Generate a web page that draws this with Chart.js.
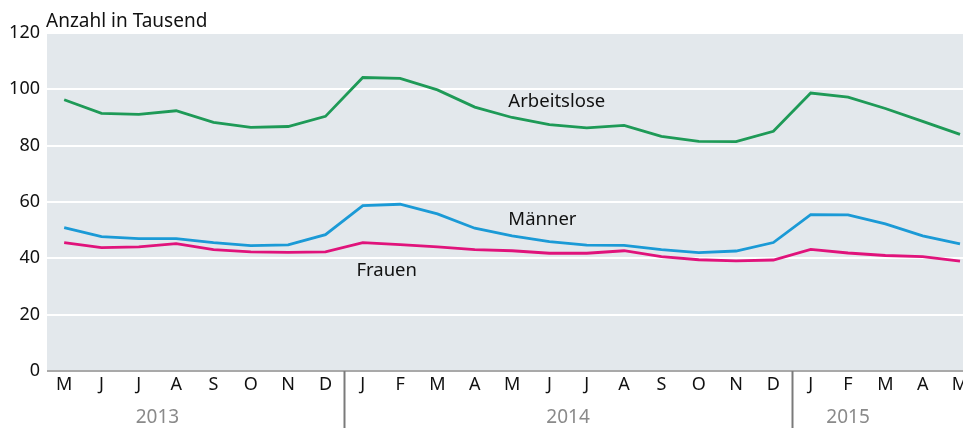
<!DOCTYPE html>
<html>
<head>
<meta charset="utf-8">
<script src="https://cdn.jsdelivr.net/npm/chart.js@4"></script>
<style>
  html, body { margin: 0; padding: 0; background: #fff; }
  #wrap { width: 963px; height: 428px; }
</style>
</head>
<body>
<div id="wrap"><canvas id="arbeitslose_chart"></canvas></div>
<script>
// Monate Mai 2013 bis Mai 2015
var months = ["M", "J", "J", "A", "S", "O", "N", "D",
              "J", "F", "M", "A", "M", "J", "J", "A", "S", "O", "N", "D",
              "J", "F", "M", "A", "M"];
var years = ["2013", "2014", "2015"];
var yearCenter = [2.5, 13.5, 21];
var yearBreaks = [7.5, 19.5];

var arbeitslose = [96.3, 91.5, 91.1, 92.4, 88.3, 86.5, 86.8, 90.4,
                   104.2, 103.9, 99.8, 93.7, 90.0, 87.5, 86.3, 87.2, 83.3, 81.5, 81.4, 85.1,
                   98.7, 97.2, 93.2, 88.6, 84.0];
var maenner = [50.9, 47.7, 47.0, 47.0, 45.6, 44.5, 44.8, 48.4,
               58.7, 59.2, 55.8, 50.7, 48.0, 45.9, 44.7, 44.6, 43.1, 42.0, 42.6, 45.6,
               55.5, 55.4, 52.2, 48.0, 45.1];
var frauen = [45.6, 43.8, 44.1, 45.2, 43.1, 42.3, 42.1, 42.3,
              45.6, 44.9, 44.1, 43.1, 42.7, 41.8, 41.8, 42.7, 40.6, 39.5, 39.1, 39.4,
              43.2, 41.9, 41.0, 40.6, 39.0];

var seriesLabels = ["Arbeitslose", "Männer", "Frauen"];
var labelAt = [[11.9, 95.7], [11.9, 53.7], [7.83, 35.6]];

var FONT = "'Noto Sans', sans-serif";

function toPoints(arr) {
    return arr.map(function (v, i) { return { x: i, y: v }; });
}

// Hintergrund, Titel, Jahreszeile und Linienbeschriftungen
var decor = {
    id: "decor",
    beforeDraw: function (chart) {
        var c = chart.ctx, a = chart.chartArea;
        c.save();
        c.fillStyle = "#e3e8ec";
        c.fillRect(a.left, a.top, a.right - a.left, a.bottom - a.top);
        c.restore();
    },
    afterDraw: function (chart) {
        var c = chart.ctx, a = chart.chartArea;
        var xs = chart.scales.x, ys = chart.scales.y;
        c.save();
        c.fillStyle = "#111";
        c.font = "19px " + FONT;
        c.textAlign = "left";
        c.textBaseline = "alphabetic";
        c.fillText("Anzahl in Tausend", a.left - 1, 27);

        c.font = "18.5px " + FONT;
        for (var i = 0; i < seriesLabels.length; i++) {
            c.textBaseline = "middle";
            c.fillText(seriesLabels[i], xs.getPixelForValue(labelAt[i][0]), ys.getPixelForValue(labelAt[i][1]));
        }

        c.strokeStyle = "#7a7a7a";
        c.lineWidth = 2;
        yearBreaks.forEach(function (b) {
            var px = Math.round(xs.getPixelForValue(b)) + 0.5;
            c.beginPath();
            c.moveTo(px, a.bottom);
            c.lineTo(px, chart.height);
            c.stroke();
        });

        c.fillStyle = "#8a8a8a";
        c.font = "19px " + FONT;
        c.textAlign = "center";
        c.textBaseline = "middle";
        years.forEach(function (y, i) {
            c.fillText(y, xs.getPixelForValue(yearCenter[i]), 418);
        });
        c.restore();
    }
};

function init_chart() {
    var ctx = document.getElementById("arbeitslose_chart").getContext("2d");

    var data = {
        datasets: [
            { label: seriesLabels[0], data: toPoints(arbeitslose), borderColor: "#1e9a57" },
            { label: seriesLabels[1], data: toPoints(maenner), borderColor: "#1b9ad6" },
            { label: seriesLabels[2], data: toPoints(frauen), borderColor: "#e0137b" }
        ].map(function (d) {
            d.borderWidth = 2.8;
            d.pointRadius = 0;
            d.tension = 0;
            d.fill = false;
            return d;
        })
    };

    var options = {
        responsive: true,
        maintainAspectRatio: false,
        animation: false,
        layout: { padding: { top: 33, right: 0, left: 0, bottom: 0 } },
        plugins: {
            legend: { display: false },
            tooltip: { enabled: false }
        },
        scales: {
            x: {
                type: "linear",
                min: -0.46,
                max: 24.08,
                grid: { display: false },
                border: { display: false },
                afterFit: function (s) {
                    s.height = 57;
                    s.paddingLeft = 0;
                    s.paddingRight = 0;
                },
                ticks: {
                    stepSize: 1,
                    includeBounds: false,
                    autoSkip: false,
                    maxRotation: 0,
                    padding: -5,
                    color: "#111",
                    font: { family: FONT, size: 18 },
                    callback: function (v) { return months[v]; }
                }
            },
            y: {
                min: 0,
                max: 120,
                afterFit: function (s) { s.width = 47; },
                border: { display: false },
                grid: {
                    drawTicks: false,
                    lineWidth: 2,
                    color: function (c) { return c.tick.value === 0 ? "#a9a9a9" : "#ffffff"; }
                },
                ticks: {
                    stepSize: 20,
                    padding: 7,
                    color: "#111",
                    font: { family: FONT, size: 18 }
                }
            }
        }
    };

    new Chart(ctx, { type: "line", data: data, options: options, plugins: [decor] });
}

init_chart();
</script>
</body>
</html>
